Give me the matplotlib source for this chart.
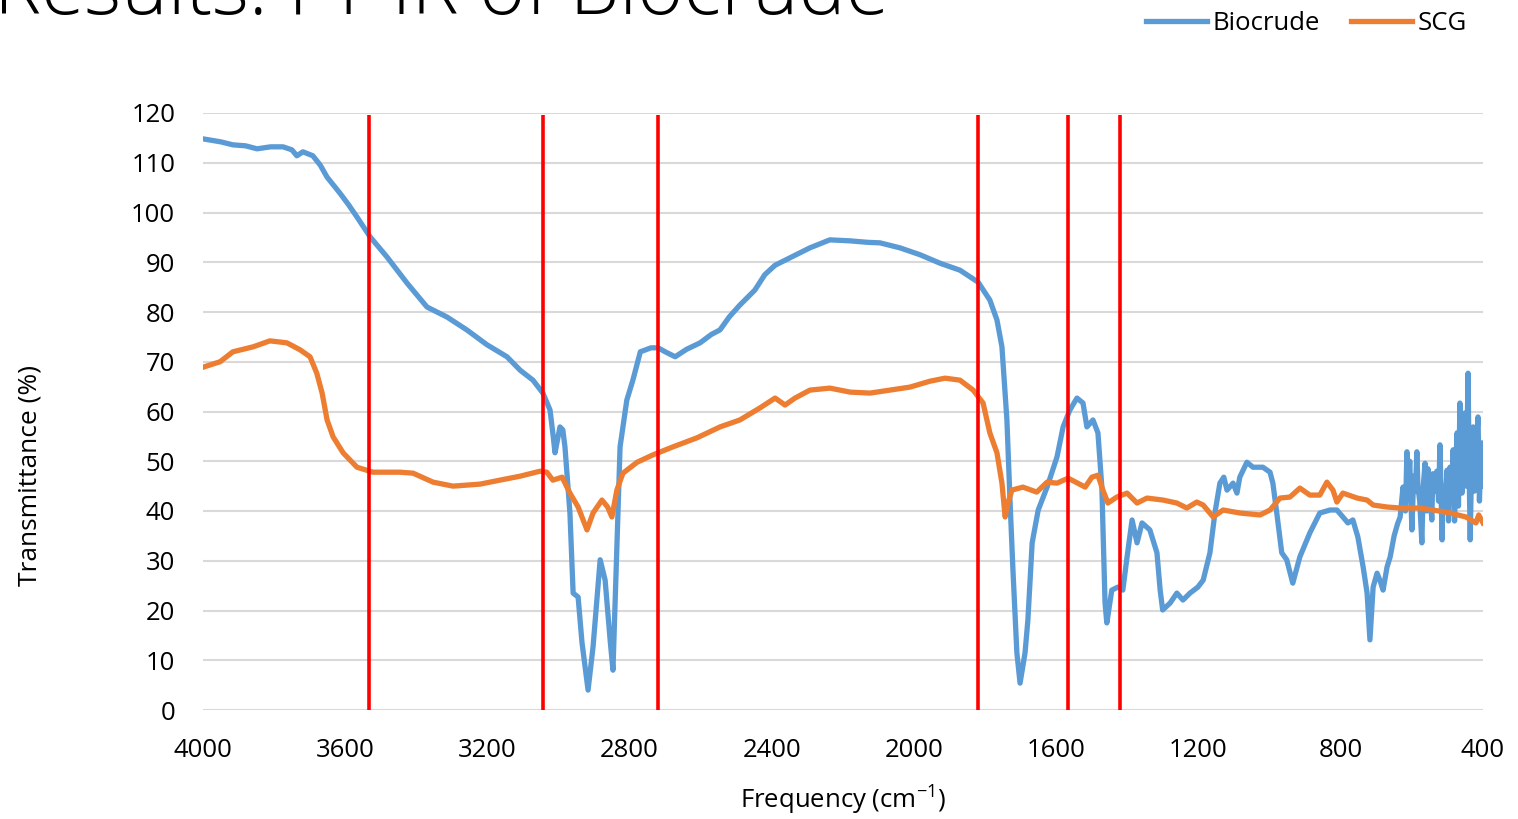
import matplotlib
matplotlib.use("Agg")
import matplotlib.pyplot as plt

plt.rcParams['font.family'] = ['Open Sans', 'DejaVu Sans']
plt.rcParams['mathtext.default'] = 'regular'

bio_freq = [4000, 3950, 3916, 3880, 3848, 3810, 3775, 3750, 3736, 3719, 3691, 3670, 3651, 3615, 3590,
            3567, 3530, 3483, 3426, 3370, 3314, 3258, 3201, 3145, 3108, 3072, 3044, 3024, 3015, 3010,
            2996, 2988, 2982, 2968, 2959, 2945, 2934, 2917, 2903, 2883, 2869, 2855, 2847, 2836, 2827,
            2808, 2791, 2770, 2740, 2720, 2700, 2672, 2640, 2602, 2570, 2546, 2520, 2490, 2448, 2420,
            2391, 2349, 2293, 2237, 2180, 2130, 2096, 2040, 1983, 1927, 1871, 1820, 1787, 1767, 1753,
            1739, 1730, 1722, 1711, 1702, 1688, 1680, 1668, 1651, 1626, 1598, 1581, 1562, 1542, 1525,
            1514, 1497, 1483, 1472, 1463, 1458, 1444, 1427, 1413, 1401, 1387, 1373, 1359, 1337, 1317,
            1308, 1301, 1280, 1261, 1244, 1224, 1202, 1187, 1168, 1154, 1140, 1129, 1120, 1103, 1092,
            1084, 1064, 1047, 1019, 999, 991, 980, 966, 952, 935, 915, 887, 859, 830, 811,
            794, 780, 766, 752, 737, 726, 718, 709, 698, 690, 681, 670, 661, 650, 640,
            633, 625, 618, 614, 611, 606, 600, 595, 590, 586, 583, 578, 572, 568, 563,
            558, 555, 550, 544, 541, 535, 530, 525, 521, 515, 513, 508, 501, 497, 493,
            488, 484, 480, 476, 473, 469, 465, 459, 455, 451, 447, 442, 439, 436, 432,
            428, 424, 420, 414, 410, 406, 403, 400]
bio_vals = [114.8, 114.2, 113.6, 113.4, 112.8, 113.2, 113.2, 112.6, 111.4, 112.2, 111.4, 109.5, 107.1, 103.9, 101.5,
            99.1, 95.1, 91.1, 85.8, 81.0, 79.0, 76.4, 73.4, 71.0, 68.3, 66.3, 63.7, 60.3, 55.0, 51.7,
            56.9, 56.3, 52.9, 39.6, 23.5, 22.7, 13.5, 4.0, 12.7, 30.2, 26.1, 14.1, 8.0, 32.8, 52.9,
            62.3, 66.3, 72.0, 72.8, 72.8, 72.0, 71.0, 72.5, 73.8, 75.5, 76.4, 79.0, 81.4, 84.4, 87.5,
            89.4, 90.9, 92.9, 94.5, 94.3, 94.0, 93.9, 92.9, 91.5, 89.8, 88.4, 86.0, 82.4, 78.4, 73.0,
            58.3, 41.6, 28.1, 11.5, 5.4, 11.5, 18.1, 33.6, 40.2, 44.8, 50.9, 56.9, 60.3, 62.7, 61.7,
            56.9, 58.3, 55.7, 44.8, 21.5, 17.5, 24.1, 24.7, 24.1, 30.8, 38.2, 33.6, 37.6, 36.2, 31.6,
            24.1, 20.1, 21.5, 23.5, 22.1, 23.5, 24.7, 26.1, 31.6, 39.6, 45.6, 46.8, 44.2, 45.6, 43.6,
            46.8, 49.8, 48.8, 48.8, 47.8, 45.6, 39.6, 31.6, 30.2, 25.5, 30.8, 35.6, 39.6, 40.2, 40.2,
            38.8, 37.6, 38.2, 34.8, 28.7, 23.5, 14.1, 24.7, 27.5, 26.1, 24.1, 28.7, 30.8, 35.0, 37.5,
            38.8, 44.8, 40.0, 51.9, 45.0, 50.0, 36.2, 47.0, 44.0, 51.9, 44.8, 42.0, 33.6, 45.0, 49.6,
            40.0, 48.5, 45.0, 38.2, 47.5, 44.0, 48.0, 42.0, 53.3, 34.2, 44.8, 40.0, 48.2, 38.0, 48.8,
            42.0, 52.3, 38.0, 50.0, 55.7, 41.0, 61.7, 43.6, 50.0, 59.7, 45.0, 67.7, 48.0, 34.2, 50.0,
            56.9, 44.0, 52.0, 58.9, 42.0, 52.0, 53.7, 45.0]

scg_freq = [4000, 3952, 3916, 3859, 3812, 3764, 3727, 3699, 3680, 3665, 3651, 3634, 3606, 3567, 3522,
            3446, 3409, 3353, 3297, 3221, 3165, 3108, 3052, 3033, 3016, 2990, 2968, 2945, 2920, 2903,
            2878, 2862, 2850, 2836, 2819, 2779, 2734, 2678, 2611, 2546, 2490, 2434, 2391, 2363, 2335,
            2293, 2237, 2180, 2124, 2068, 2012, 1955, 1913, 1871, 1834, 1806, 1787, 1767, 1753, 1744,
            1736, 1725, 1694, 1655, 1626, 1598, 1567, 1540, 1519, 1500, 1483, 1469, 1455, 1430, 1401,
            1373, 1345, 1300, 1261, 1233, 1205, 1187, 1159, 1131, 1084, 1027, 999, 971, 943, 915,
            887, 859, 839, 822, 811, 794, 754, 726, 709, 670, 633, 577, 540, 493, 448,
            420, 412, 400]
scg_vals = [68.9, 70.0, 72.0, 73.0, 74.2, 73.8, 72.4, 71.0, 67.7, 63.7, 58.3, 54.9, 51.7, 48.8, 47.8,
            47.8, 47.6, 45.8, 45.0, 45.4, 46.2, 47.0, 48.0, 47.8, 46.2, 46.8, 43.6, 40.8, 36.2, 39.6,
            42.2, 40.8, 38.8, 44.2, 47.6, 49.8, 51.3, 52.9, 54.7, 56.9, 58.3, 60.7, 62.7, 61.3, 62.7,
            64.3, 64.7, 63.9, 63.7, 64.3, 64.9, 66.1, 66.7, 66.3, 64.3, 61.7, 55.7, 51.7, 45.6, 38.8,
            41.6, 44.2, 44.8, 43.8, 45.8, 45.6, 46.6, 45.6, 44.8, 46.8, 47.2, 44.2, 41.6, 42.8, 43.6,
            41.6, 42.6, 42.2, 41.6, 40.6, 41.8, 41.2, 38.8, 40.2, 39.6, 39.2, 40.2, 42.6, 42.8, 44.6,
            43.2, 43.2, 45.8, 44.2, 41.8, 43.6, 42.6, 42.2, 41.2, 40.8, 40.6, 40.6, 40.2, 39.6, 38.8,
            37.6, 39.2, 37.6]

marker_lines = [3533, 3044, 2720, 1820, 1567, 1421]
x_ticks = [4000, 3600, 3200, 2800, 2400, 2000, 1600, 1200, 800, 400]
y_ticks = list(range(0, 121, 10))

fig = plt.figure(figsize=(15.18, 8.19), dpi=100)
ax = fig.add_axes([203 / 1518, 1 - 710 / 819, (1483 - 203) / 1518, (710 - 113) / 819])

for y in y_ticks:
    ax.axhline(y, color='#D9D9D9', lw=1.5, zorder=0)

ax.plot(bio_freq, bio_vals, color='#5B9BD5', lw=3.8, label='Biocrude', solid_joinstyle='round', zorder=3)
ax.plot(scg_freq, scg_vals, color='#ED7D31', lw=3.8, label='SCG', solid_joinstyle='round', zorder=3)
ax.vlines(marker_lines, 0, 119.5, colors='#FF0000', lw=2.6, zorder=4)

ax.set_xlim(4000, 400)
ax.set_ylim(0, 120)
ax.set_xticks(x_ticks)
ax.set_yticks(y_ticks)
ax.tick_params(axis='both', length=0, labelsize=18.5, colors='#000000')
ax.tick_params(axis='x', pad=20)
ax.tick_params(axis='y', pad=20)
for s in ax.spines.values():
    s.set_visible(False)

ax.set_xlabel('Frequency (cm$^{-1}$)', fontsize=18.5, va='center')
ax.xaxis.set_label_coords(0.5, (710 - 800) / 597)
ax.set_ylabel('Transmittance (%)', fontsize=19, va='center')
ax.yaxis.set_label_coords((30 - 203) / 1280, 0.5 + (710 - 475 - 298.5) / 597)

fig.text(-0.004, 1 - 14 / 819, 'Results: FT-IR of Biocrude', fontsize=57, fontweight='light',
         ha='left', va='baseline')

leg = fig.legend(loc='upper right', bbox_to_anchor=(1490 / 1518, 1 + 12 / 819), ncol=2, frameon=False,
                 fontsize=18.5, handlelength=2.4, columnspacing=1.2, handletextpad=0.2)

fig.savefig('out.png', dpi=100)
